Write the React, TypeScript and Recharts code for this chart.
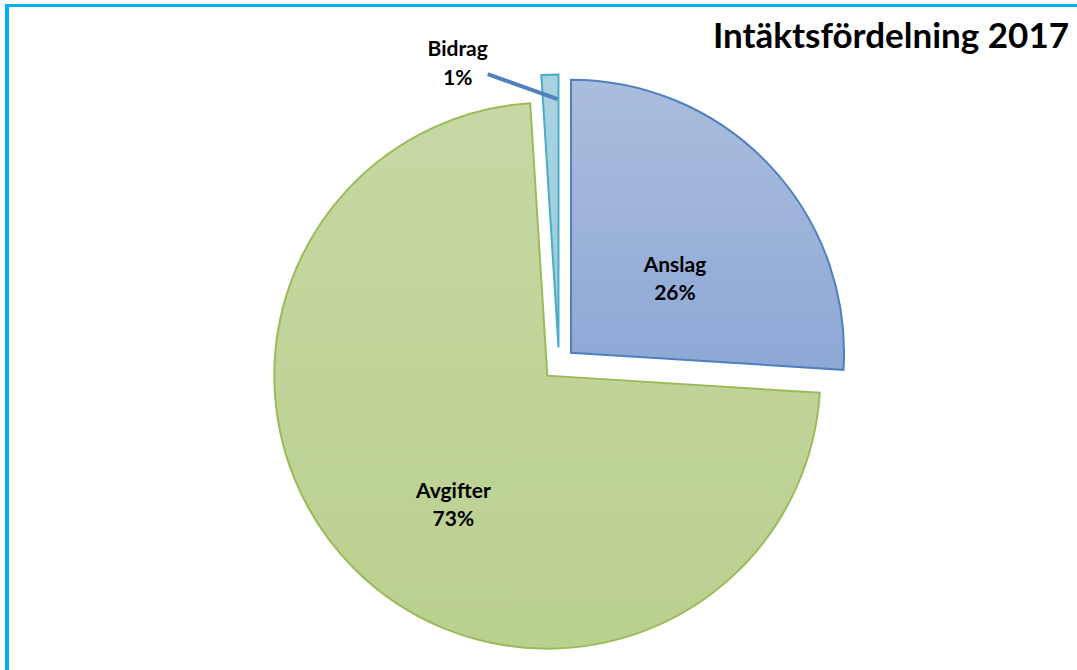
import React from "react";
import { PieChart, Pie, Cell, Sector } from "recharts";

const categories = ["Anslag", "Avgifter", "Bidrag"];
const shares = [26, 73, 1];
const title = "Intäktsfördelning 2017";

const fills = ["url(#gAnslag)", "url(#gAvgifter)", "url(#gBidrag)"];
const strokes = ["#4F81BD", "#9BBB59", "#4BACC6"];

const data = categories.map((name, i) => ({ name, value: shares[i] }));

const RAD = Math.PI / 180;
const EXPLODE = 16.5;
const FONT = "Lato, 'Open Sans', sans-serif";

// offset along a recharts angle (counterclockwise from 3 o'clock)
const polar = (angle: number, d: number) => ({
  dx: d * Math.cos(angle * RAD),
  dy: -d * Math.sin(angle * RAD),
});

const explodedSector = (props: any) => {
  const { dx, dy } = polar(props.midAngle, EXPLODE);
  return <Sector {...props} cx={props.cx + dx} cy={props.cy + dy} />;
};

// label placement inside each slice: fraction of radius, angle shift
const labelPlace: Record<string, { k: number; shift: number }> = {
  Anslag: { k: 0.467, shift: -7.8 },
  Avgifter: { k: 0.587, shift: 9.1 },
};

const renderLabel = (p: any) => {
  const { cx, cy, midAngle, outerRadius, name, percent } = p;
  const ex = polar(midAngle, EXPLODE);
  const ax = cx + ex.dx;
  const ay = cy + ex.dy;
  const pct = Math.round(percent * 100) + "%";

  if (name === "Bidrag") {
    const tip = polar(midAngle, outerRadius * 0.91);
    const tx = ax + tip.dx + 7;
    const ty = ay + tip.dy;
    return (
      <g>
        <line x1={tx - 70} y1={ty - 25} x2={tx} y2={ty} stroke="#4F81BD" strokeWidth={4} />
        <text x={tx - 100} y={ty - 43} textAnchor="middle" fontFamily={FONT} fontWeight="bold" fontSize={21} fill="#000">
          <tspan x={tx - 100} dy={0}>{name}</tspan>
          <tspan x={tx - 100} dy={29}>{pct}</tspan>
        </text>
      </g>
    );
  }

  const pl = labelPlace[name];
  const off = polar(midAngle + pl.shift, outerRadius * pl.k);
  const lx = ax + off.dx;
  const ly = ay + off.dy;
  return (
    <text x={lx} y={ly - 7} textAnchor="middle" fontFamily={FONT} fontWeight="bold" fontSize={21} fill="#000">
      <tspan x={lx} dy={0}>{name}</tspan>
      <tspan x={lx} dy={28}>{pct}</tspan>
    </text>
  );
};

export default function App() {
  return (
    <div style={{ position: "absolute", left: 0, top: 0, width: 1077, height: 670, background: "#fff", overflow: "hidden" }}>
      <div
        style={{
          position: "absolute",
          left: 5,
          top: 4,
          width: 1080,
          height: 680,
          borderTop: "3px solid #00B0F0",
          borderLeft: "4px solid #00B0F0",
        }}
      />
      <PieChart width={1077} height={670} margin={{ top: 0, right: 0, bottom: 0, left: 0 }}>
        <defs>
          <linearGradient id="gAnslag" x1="0" y1="0" x2="0" y2="1">
            <stop offset="0%" stopColor="#AABDDD" />
            <stop offset="100%" stopColor="#8EA8D5" />
          </linearGradient>
          <linearGradient id="gAvgifter" x1="0" y1="0" x2="0" y2="1">
            <stop offset="0%" stopColor="#C6D8A4" />
            <stop offset="100%" stopColor="#BAD08F" />
          </linearGradient>
          <linearGradient id="gBidrag" x1="0" y1="0" x2="0" y2="1">
            <stop offset="0%" stopColor="#AAD3E2" />
            <stop offset="100%" stopColor="#9CCBDC" />
          </linearGradient>
        </defs>
        <text x={1069} y={48} textAnchor="end" fontFamily={FONT} fontWeight="bold" fontSize={35} fill="#000">
          {title}
        </text>
        <Pie
          data={data}
          dataKey="value"
          nameKey="name"
          cx={559}
          cy={364}
          outerRadius={273}
          startAngle={90}
          endAngle={-270}
          shape={explodedSector}
          label={renderLabel}
          labelLine={false}
          isAnimationActive={false}
        >
          {data.map((d, i) => (
            <Cell key={d.name} fill={fills[i]} stroke={strokes[i]} strokeWidth={2} />
          ))}
        </Pie>
      </PieChart>
    </div>
  );
}
